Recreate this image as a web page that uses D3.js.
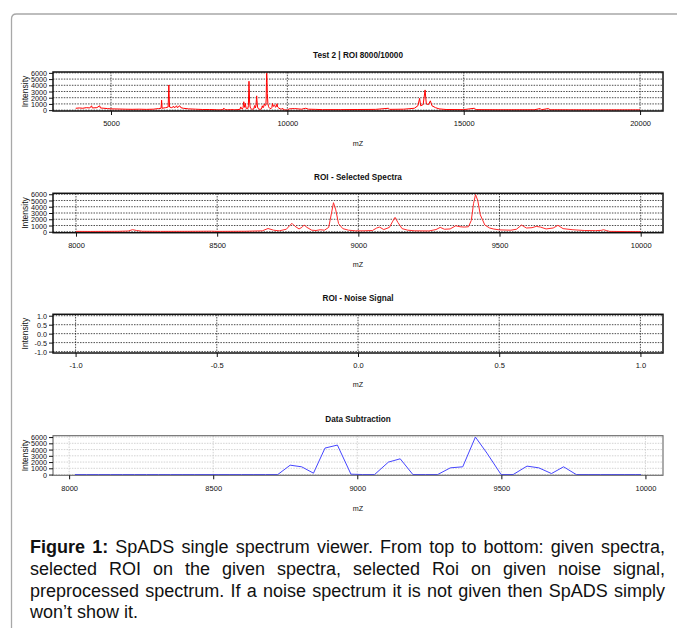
<!DOCTYPE html>
<html><head><meta charset="utf-8">
<script src="https://cdn.jsdelivr.net/npm/d3@7"></script>
<style>body{margin:0;background:#fff}svg{display:block}</style>
</head><body>
<svg id="fig" width="677" height="628"></svg>
<script>
// Full spectrum (m/z, intensity)
const spectrumMz = [4000,4100,4200,4300,4400,4450,4470,4600,4680,4700,4800,4900,5000,5200,5400,5600,5800,6000,6200,6350,6420,6435,6450,6550,6620,6640,6660,6720,6780,6800,6860,6880,6950,6980,7050,7200,7400,7600,7800,
  8000,8050,8100,8150,8185,8200,8215,8235,8300,8400,8480,8500,8600,8660,8680,8700,8720,8745,8757,8765,8775,8790,8800,8808,8818,8835,8850,8865,8880,8895,8905,8912,8920,8930,8945,8965,8990,9020,9050,9065,9075,9090,9110,9122,9130,9140,9155,9175,9200,9250,9275,9290,9305,9325,9345,9360,9375,9390,9400,9408,9415,9423,9432,9448,9465,9480,9500,9540,9560,9578,9595,9615,9630,9645,9665,9690,9707,9725,9760,9800,9840,9860,9868,9878,9890,9950,10000,
  10050,10200,10400,10520,10600,10800,11000,11500,12000,12500,12870,12900,13300,13600,13700,13750,13780,13850,13905,13940,14000,14055,14100,14200,14300,14500,15000,15300,15350,16000,17000,17170,17200,17400,17450,18000,19000,20000];
const spectrumInt = [300,350,300,400,350,700,350,400,700,350,300,250,200,180,150,130,150,120,150,250,300,1600,300,400,500,4050,500,400,600,350,700,400,700,400,300,200,150,100,100,
  60,50,60,70,120,330,200,80,60,70,90,60,80,150,520,250,150,400,1000,1350,900,450,700,1080,700,250,200,320,250,700,3000,4650,3500,1300,500,250,150,150,200,600,750,350,700,1700,2300,1500,500,250,150,130,350,700,400,450,960,800,750,800,1800,4500,5950,5000,2700,1075,600,430,300,250,400,1075,600,650,860,750,450,600,1030,500,320,200,180,220,320,200,60,30,20,
  200,250,150,300,150,120,80,80,100,120,300,120,150,300,700,1900,700,900,3250,1000,900,1500,700,400,200,100,80,300,80,60,60,250,60,250,60,50,40,40];

// Preprocessed (subtracted) spectrum
const subMz = [8020,8061,8103,8144,8186,8227,8268,8310,8351,8392,8434,8475,8517,8558,8599,8641,8682,8724,8767,8807,8848,8888,8931,8978,9019,9060,9108,9149,9193,9236,9279,9323,9366,9410,9450,9499,9541,9589,9630,9674,9716,9760,9801,9843,9884,9926,9967,9985];
const subInt = [0,0,0,0,0,0,0,0,0,0,0,0,0,0,0,0,0,0,1500,1240,220,4240,4720,60,0,0,1990,2520,0,0,0,1075,1240,6000,3430,0,0,1350,1075,160,1240,0,0,0,0,0,0,0];

// Tick values
const fullTicks = [5000,10000,15000,20000];
const roiTicks = [8000,8500,9000,9500,10000];
const noiseTicks = [-1.0,-0.5,0.0,0.5,1.0];
const intensityTicks = [0,1000,2000,3000,4000,5000,6000];

const titles = ["Test 2 | ROI 8000/10000","ROI - Selected Spectra","ROI - Noise Signal","Data Subtraction"];

// Caption, one entry per printed line; the first two words are bold
const captionLines = [
  "Figure 1: SpADS single spectrum viewer. From top to bottom: given spectra,",
  "selected ROI on the given spectra, selected Roi on given noise signal,",
  "preprocessed spectrum. If a noise spectrum it is not given then SpADS simply",
  "won\u2019t show it."
];

const svg = d3.select("#fig");
const FONT = "'Liberation Sans', Arial, sans-serif";

// frame with rounded top-left corner
svg.append("path")
  .attr("d","M11.5,628 V19 Q11.5,14 16.5,14 H677")
  .attr("fill","none").attr("stroke","#a8a8a8").attr("stroke-width",1.3);

const panels = [
  {title:titles[0], top:72, bottom:111, xDom:[3356,20650], yDom:[-140,6140], xt:fullTicks, yt:intensityTicks,
   mz:spectrumMz, val:spectrumInt, color:"#ff0000", ty:55, mzY:143, fmt:d3.format("d"), light:false},
  {title:titles[1], top:193.3, bottom:232.7, xDom:[7918.6,10079], yDom:[-150,6150], xt:roiTicks, yt:intensityTicks,
   mz:spectrumMz, val:spectrumInt, range:[8000,10000], color:"#ff2a2a", ty:176.7, mzY:264, fmt:d3.format("d"), light:false},
  {title:titles[2], top:314.3, bottom:353, xDom:[-1.08,1.08], yDom:[-1.08,1.08], xt:noiseTicks, yt:noiseTicks,
   mz:null, ty:298, mzY:384, fmt:v=>v.toFixed(1), light:false},
  {title:titles[3], top:435.7, bottom:475.3, xDom:[7944,10061], yDom:[-120,6220], xt:roiTicks, yt:intensityTicks,
   mz:subMz, val:subInt, color:"#4646ff", ty:419, mzY:508, fmt:d3.format("d"), light:true}
];

const L = 53, R = 663;

panels.forEach(p => {
  const g = svg.append("g");
  const x = d3.scaleLinear().domain(p.xDom).range([L,R]);
  const y = d3.scaleLinear().domain(p.yDom).range([p.bottom,p.top]);
  const gridCol = p.light ? "#c8c8c8" : "#000";
  const gridW = p.light ? 0.8 : 0.7;

  // grid
  g.selectAll(".hg").data(p.yt).join("line")
    .attr("x1",L).attr("x2",R).attr("y1",d=>y(d)).attr("y2",d=>y(d))
    .attr("stroke",gridCol).attr("stroke-width",gridW).attr("stroke-dasharray","1.5,1.2");
  g.selectAll(".vg").data(p.xt).join("line")
    .attr("y1",p.top).attr("y2",p.bottom).attr("x1",d=>x(d)).attr("x2",d=>x(d))
    .attr("stroke",gridCol).attr("stroke-width",gridW).attr("stroke-dasharray","1.5,1.2");

  // data line
  if (p.mz) {
    let pts = p.mz.map((m,i)=>[m,p.val[i]]);
    if (p.range) pts = pts.filter(d=>d[0]>=p.range[0] && d[0]<=p.range[1]);
    g.append("path").datum(pts)
      .attr("d", d3.line().x(d=>x(d[0])).y(d=>y(d[1])))
      .attr("fill","none").attr("stroke",p.color).attr("stroke-width",1)
      .attr("stroke-linejoin","round");
  }

  // box
  g.append("rect").attr("x",L).attr("y",p.top).attr("width",R-L).attr("height",p.bottom-p.top)
    .attr("fill","none").attr("stroke",p.light?"#666":"#111").attr("stroke-width",p.light?1.1:1.5);

  // axes
  const ax = g.append("g").attr("transform",`translate(0,${p.bottom})`)
    .call(d3.axisBottom(x).tickValues(p.xt).tickFormat(p.fmt).tickSize(4).tickSizeOuter(0).tickPadding(6));
  ax.select(".domain").remove();
  const ay = g.append("g").attr("transform",`translate(${L},0)`)
    .call(d3.axisLeft(y).tickValues(p.yt).tickFormat(p.fmt).tickSize(4).tickSizeOuter(0).tickPadding(2));
  ay.select(".domain").remove();
  [ax,ay].forEach(a=>{
    a.selectAll("line").attr("stroke","#111").attr("stroke-width",1);
  });
  ax.selectAll("text").attr("font-family",FONT).attr("font-size",7.5).attr("fill","#111");
  ay.selectAll("text").attr("font-family",FONT).attr("font-size",7.2).attr("fill","#111").attr("dy","0.35em");

  // title
  g.append("text").attr("x",(L+R)/2).attr("y",p.ty).attr("dy","0.35em")
    .attr("text-anchor","middle").attr("font-family",FONT).attr("font-weight","bold")
    .attr("font-size",8.2).attr("fill","#111").text(p.title);
  // axis titles
  g.append("text").attr("x",(L+R)/2).attr("y",p.mzY).attr("dy","0.35em")
    .attr("text-anchor","middle").attr("font-family",FONT).attr("font-size",7.2)
    .attr("fill","#111").text("mZ");
  g.append("text").attr("transform",`translate(25,${(p.top+p.bottom)/2}) rotate(-90)`)
    .attr("dy","0.35em").attr("text-anchor","middle").attr("font-family",FONT).attr("font-size",8.5)
    .attr("fill","#111").text("Intensity");
});

// caption, justified word by word
const capSize = 18, capLeft = 30, capRight = 665, capY0 = 553, capLH = 21.8;
const spaceW = capSize*0.278;
const meas = svg.append("text").attr("font-family",FONT).attr("font-size",capSize);
const cap = svg.append("g");
captionLines.forEach((line,i)=>{
  const words = line.split(" ").map((t,k)=>({t, b: i===0 && k<2}));
  words.forEach(w=>{
    meas.attr("font-weight",w.b?"bold":"normal").text(w.t);
    w.w = meas.node().getComputedTextLength();
  });
  const total = d3.sum(words,w=>w.w);
  const last = i===captionLines.length-1;
  const avail = capRight - capLeft;
  let gap = last ? spaceW : (avail-total)/(words.length-1);
  // squeeze glyphs slightly if a line is too long for normal spacing
  let sx = 1;
  if (!last && gap < spaceW*0.8) { sx = (avail - spaceW*0.8*(words.length-1))/total; gap = spaceW*0.8; }
  let xx = capLeft;
  words.forEach(w=>{
    cap.append("text").attr("transform",`translate(${xx},${capY0+i*capLH}) scale(${sx},1)`)
      .attr("font-family",FONT).attr("font-size",capSize)
      .attr("font-weight",w.b?"bold":"normal").attr("fill","#111").text(w.t);
    xx += w.w*sx + gap;
  });
});
meas.remove();
</script>
</body></html>
